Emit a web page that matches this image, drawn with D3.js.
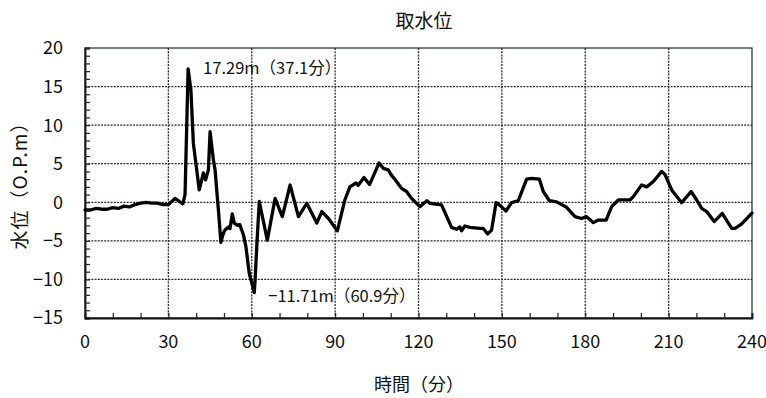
<!DOCTYPE html>
<html>
<head>
<meta charset="utf-8">
<script src="https://cdn.jsdelivr.net/npm/d3@7"></script>
<style>
  html, body { margin: 0; padding: 0; background: #fff; }
  svg { display: block; }
  text { font-family: "Noto Sans CJK JP", "Noto Sans", sans-serif; fill: #111; }
</style>
</head>
<body>
<svg id="chart" width="766" height="398"></svg>
<script>
// Intake water level record (O.P. m) against elapsed time (minutes)
const times = [0, 2, 4, 6, 8, 10, 12, 14, 16, 18, 20, 22, 24, 26, 28, 30, 32.4, 34, 35.2, 36, 37.1,
  38.1, 39, 40.2, 41.1, 42.6, 43.4, 44.4, 45, 46.2, 46.8, 48, 48.9, 49.8, 50.4, 51.6, 52.2, 53, 53.7,
  54.9, 55.7, 57, 57.9, 59.1, 60.9, 61.2, 61.8, 62.7, 65.6, 68.4, 71, 73.8, 76.8, 79.8, 83.4, 85.2,
  87.6, 90.8, 93.5, 95.3, 97.5, 98.3, 100.4, 102.4, 105.8, 107.3, 109.1, 110.3, 112.1, 113.9, 115.7,
  117.5, 120.5, 123, 124.1, 128.3, 131.9, 133.7, 134.9, 135.5, 136.7, 138.5, 142.1, 143.3, 144.9,
  146.3, 147.9, 149.3, 151.5, 153.5, 155.9, 158.9, 160.7, 163.5, 164.9, 167.1, 169.7, 173.3, 176.3,
  178.7, 180.5, 182.9, 184.7, 187.5, 189.5, 191.9, 196.1, 197.3, 200.3, 202.1, 204.5, 207.5, 208.7,
  211.1, 214.7, 218.1, 220.1, 221.9, 223.7, 226.4, 229.3, 232.7, 233.9, 236.3, 240];
const levels = [-1.0, -1.0, -0.8, -0.9, -0.9, -0.7, -0.8, -0.5, -0.6, -0.3, -0.1, 0.0, -0.1, -0.1, -0.3, -0.3, 0.5, 0.1, -0.2, 1.0, 17.29,
  14.6, 7.6, 4.2, 1.6, 3.8, 2.9, 4.2, 9.15, 5.5, 4.2, -1.0, -5.2, -4.0, -3.6, -3.2, -3.4, -1.5, -2.7,
  -3.0, -2.9, -4.2, -5.75, -9.2, -11.71, -10.1, -5.75, 0.1, -4.9, 0.5, -1.86, 2.24, -1.86, -0.13, -2.7, -1.2,
  -2.1, -3.7, 0.3, 2.0, 2.5, 2.2, 3.2, 2.3, 5.1, 4.4, 4.2, 3.5, 2.7, 1.8, 1.4,
  0.5, -0.57, 0.2, -0.13, -0.35, -3.25, -3.5, -3.2, -3.7, -3.07, -3.25, -3.37, -3.4, -4.1,
  -3.6, -0.05, -0.4, -1.13, -0.05, 0.2, 3.0, 3.1, 3.0, 1.4, 0.2, 0.05, -0.65, -1.86,
  -2.1, -1.86, -2.64, -2.3, -2.3, -0.57, 0.3, 0.3, 0.73, 2.24, 2.0, 2.7, 4.0, 3.6,
  1.6, -0.05, 1.4, 0.3, -0.8, -1.2, -2.5, -1.43, -3.37, -3.37, -2.8, -1.4];

const xTicks = [0, 30, 60, 90, 120, 150, 180, 210, 240];
const yTicks = [-15, -10, -5, 0, 5, 10, 15, 20];

// Labelled extremes
const peakTime = 37.1, peakLevel = 17.29;
const troughTime = 60.9, troughLevel = -11.71;

const svg = d3.select("#chart");
const plotL = 85, plotR = 752, plotT = 48, plotB = 318;

const x = d3.scaleLinear().domain([0, 240]).range([plotL, plotR]);
const y = d3.scaleLinear().domain([-15, 20]).range([plotB, plotT]);

// Title and axis titles
svg.append("text").attr("x", 424).attr("y", 28).attr("text-anchor", "middle")
  .style("font-size", "19px").text("取水位");
svg.append("text").attr("transform", "translate(27,181) rotate(-90)").attr("text-anchor", "middle")
  .style("font-size", "19px").style("letter-spacing", "1px").text("水位（O.P.m）");
svg.append("text").attr("x", 419).attr("y", 391).attr("text-anchor", "middle")
  .style("font-size", "18px").text("時間（分）");

// Dotted grid
const grid = svg.append("g").attr("stroke", "#33282a").attr("stroke-width", 1.3)
  .attr("stroke-dasharray", "2,1.2");
grid.selectAll("line.h").data(yTicks.filter(v => v > -15 && v < 20)).join("line")
  .attr("x1", plotL).attr("x2", plotR).attr("y1", d => y(d)).attr("y2", d => y(d));
grid.selectAll("line.v").data(xTicks.filter(v => v > 0 && v < 240)).join("line")
  .attr("y1", plotT).attr("y2", plotB).attr("x1", d => x(d)).attr("x2", d => x(d));

// Frame
svg.append("rect").attr("x", plotL).attr("y", plotT).attr("width", plotR - plotL).attr("height", plotB - plotT)
  .attr("fill", "none").attr("stroke", "#1f2a33").attr("stroke-width", 1.2);

// Axes with inward minor ticks
const yAxis = d3.axisLeft(y).tickValues(d3.range(-15, 21, 1)).tickSize(-5).tickFormat("");
svg.append("g").attr("transform", `translate(${plotL},0)`).call(yAxis)
  .call(g => g.select(".domain").attr("stroke", "#111").attr("stroke-width", 1.8))
  .call(g => g.selectAll(".tick line").attr("stroke", "#222").attr("stroke-width", 1.2));
const xAxis = d3.axisBottom(x).tickValues(d3.range(0, 241, 10)).tickSize(-5).tickFormat("");
svg.append("g").attr("transform", `translate(0,${plotB})`).call(xAxis)
  .call(g => g.select(".domain").attr("stroke", "#111").attr("stroke-width", 1.8))
  .call(g => g.selectAll(".tick line").attr("stroke", "#222").attr("stroke-width", 1.2));

// Tick labels
svg.append("g").selectAll("text").data(yTicks).join("text")
  .attr("x", 63).attr("y", d => y(d)).attr("dy", "0.36em").attr("text-anchor", "end")
  .style("font-size", "18px").text(d => d < 0 ? "−" + Math.abs(d) : d);
svg.append("g").selectAll("text").data(xTicks).join("text")
  .attr("x", d => x(d)).attr("y", 348).attr("text-anchor", "middle")
  .style("font-size", "18px").text(d => d);

// Water level line
const line = d3.line().x((d, i) => x(times[i])).y(d => y(d)).curve(d3.curveLinear);
svg.append("path").datum(levels).attr("d", line)
  .attr("fill", "none").attr("stroke", "#000").attr("stroke-width", 3.3)
  .attr("stroke-linejoin", "round").attr("stroke-linecap", "round");

// Extreme annotations
svg.append("text").attr("x", x(peakTime) + 15).attr("y", 74).style("font-size", "16.5px")
  .text(`${peakLevel.toFixed(2)}m（${peakTime.toFixed(1)}分）`);
svg.append("text").attr("x", x(troughTime) + 14).attr("y", 302).style("font-size", "16.5px")
  .text(`−${Math.abs(troughLevel).toFixed(2)}m（${troughTime.toFixed(1)}分）`);
</script>
</body>
</html>
